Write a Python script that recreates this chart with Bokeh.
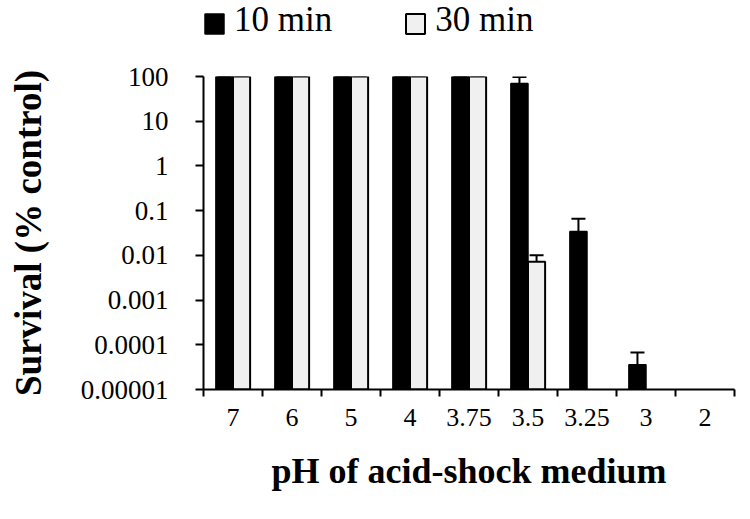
from bokeh.plotting import figure
from bokeh.layouts import column
from bokeh.models import (ColumnDataSource, FixedTicker, Whisker, TeeHead,
                          Legend, LegendItem, Range1d)
from bokeh.embed import file_html
from bokeh.resources import INLINE

# ---- data ----
categories = ["7", "6", "5", "4", "3.75", "3.5", "3.25", "3", "2"]
survival_10min = [100, 100, 100, 100, 100, 70, 0.034, 0.000036, None]
survival_30min = [100, 100, 100, 100, 100, 0.0072, None, None, None]
error_10min = [None, None, None, None, None, 27, 0.032, 0.000031, None]
error_30min = [None, None, None, None, None, 0.0028, None, None, None]
series_names = ["10 min", "30 min"]
ytick_values = [0.00001, 0.0001, 0.001, 0.01, 0.1, 1, 10, 100]
ytick_labels = ["0.00001", "0.0001", "0.001", "0.01", "0.1", "1", "10", "100"]
y_floor = 0.00001
y_ceil = 100

# ---- layout / style constants ----
BAR_W = 0.29
OFF = 0.145
FONT = "Liberation Serif"
LEG_FONT = "Times New Roman"
COL_10 = "black"
COL_30 = "#f0f0f0"
LW_10 = 1.5
LW_30 = 2
FRAME_L = 203
FRAME_W = 531
FRAME_H = 313
MAIN_TOP = 16
LEG_H = 60
TOTAL_W = FRAME_L + FRAME_W + 10
# legend geometry (pixels)
LEG_X = 1
SW_W = 20
SW_H = 21
LABEL_GAP = 10
ITEM_SPACING = 73
LABEL_W = 98          # rendered width of a "NN min" label at 35px
SW_CY = LEG_H - 23.5  # swatch centre, measured from the strip bottom


def series_source(vals, errs, offset):
    xs, tops, lows, ups = [], [], [], []
    for i, (v, e) in enumerate(zip(vals, errs)):
        if v is None:
            continue
        xs.append(i + 0.5 + offset)
        tops.append(v)
        lows.append(v)
        ups.append(v + e if e is not None else v)
    return ColumnDataSource(dict(x=xs, top=tops, lower=lows, upper=ups,
                                 bottom=[y_floor] * len(xs)))


src10 = series_source(survival_10min, error_10min, -OFF)
src30 = series_source(survival_30min, error_30min, +OFF)

p = figure(frame_width=FRAME_W, frame_height=FRAME_H, y_axis_type="log",
           x_range=Range1d(0, len(categories)), y_range=Range1d(y_floor, y_ceil),
           output_backend="svg", toolbar_location=None,
           min_border_left=FRAME_L, min_border_top=MAIN_TOP,
           min_border_right=TOTAL_W - FRAME_L - FRAME_W, min_border_bottom=10)
p.title.visible = False
p.outline_line_color = None
p.xgrid.visible = False
p.ygrid.visible = False

p.vbar(x="x", top="top", bottom="bottom", width=BAR_W, source=src10,
       fill_color=COL_10, line_color="black", line_width=LW_10)
p.vbar(x="x", top="top", bottom="bottom", width=BAR_W, source=src30,
       fill_color=COL_30, line_color="black", line_width=LW_30)

for src in (src10, src30):
    w = Whisker(base="x", lower="lower", upper="upper", source=src,
                dimension="height", line_color="black", line_width=2,
                upper_head=TeeHead(size=14, line_color="black", line_width=2),
                lower_head=None)
    p.add_layout(w)

# x axis: labels at category centres, ticks at category boundaries
xa = p.xaxis[0]
centres = [i + 0.5 for i in range(len(categories))]
xa.ticker = FixedTicker(ticks=centres,
                        minor_ticks=list(range(len(categories) + 1)))
xa.major_label_overrides = {c: lab for c, lab in zip(centres, categories)}
xa.major_tick_out = 0
xa.major_tick_in = 0
xa.minor_tick_out = 7
xa.minor_tick_in = 0
xa.minor_tick_line_width = 2
xa.minor_tick_line_color = "black"
xa.axis_line_width = 2
xa.axis_line_color = "black"
xa.major_label_text_font = FONT
xa.major_label_text_font_size = "26px"
xa.major_label_text_color = "black"
xa.major_label_standoff = 12
xa.axis_label = "pH of acid-shock medium"
xa.axis_label_text_font = FONT
xa.axis_label_text_font_style = "bold"
xa.axis_label_text_font_size = "36px"
xa.axis_label_text_color = "black"
xa.axis_label_standoff = 22

ya = p.yaxis[0]
ya.ticker = FixedTicker(ticks=ytick_values, minor_ticks=[])
ya.major_label_overrides = {v: lab for v, lab in zip(ytick_values, ytick_labels)}
ya.major_tick_out = 8
ya.major_tick_in = 0
ya.major_tick_line_width = 2
ya.major_tick_line_color = "black"
ya.minor_tick_out = 0
ya.minor_tick_in = 0
ya.axis_line_width = 2
ya.axis_line_color = "black"
ya.major_label_text_font = FONT
ya.major_label_text_font_size = "27px"
ya.major_label_text_color = "black"
ya.major_label_standoff = 27
ya.axis_label = "Survival (% control)"
ya.axis_label_text_font = FONT
ya.axis_label_text_font_style = "bold"
ya.axis_label_text_font_size = "37px"
ya.axis_label_text_color = "black"
ya.axis_label_standoff = 29

# ---- legend strip above the chart (its frame aligns with the chart's) ----
lf = figure(width=TOTAL_W, height=LEG_H, x_range=Range1d(0, FRAME_W),
            y_range=Range1d(0, LEG_H), output_backend="svg",
            toolbar_location=None, x_axis_location=None,
            y_axis_location=None, min_border=0)
lf.title.visible = False
lf.outline_line_color = None
lf.xgrid.visible = False
lf.ygrid.visible = False

# legend labels (renderers without rows: the legend draws only the labels)
k10 = lf.vbar(x="x", top="top", width=1, source=ColumnDataSource(dict(x=[], top=[])))
k30 = lf.vbar(x="x", top="top", width=1, source=ColumnDataSource(dict(x=[], top=[])))
legend = Legend(items=[LegendItem(label=series_names[0], renderers=[k10]),
                       LegendItem(label=series_names[1], renderers=[k30])],
                orientation="horizontal", location=(LEG_X, LEG_H - 40),
                label_text_font=LEG_FONT, label_text_font_size="35px",
                label_text_color="black", glyph_width=SW_W, glyph_height=SW_H,
                label_standoff=LABEL_GAP, spacing=ITEM_SPACING, padding=0,
                margin=0, border_line_color=None, background_fill_alpha=0)
lf.add_layout(legend, "center")

# legend swatches, one per series, placed in front of each label
item_step = SW_W + LABEL_GAP + LABEL_W + ITEM_SPACING
sw_x = [LEG_X + SW_W / 2 + i * item_step for i in range(len(series_names))]
lf.rect(x=sw_x, y=[SW_CY] * len(sw_x), width=SW_W - 1, height=SW_H - 1,
        fill_color=[COL_10, COL_30], line_color="black",
        line_width=[LW_10, LW_30])

layout = column(lf, p, spacing=0)
open("out.html", "w").write(file_html(layout, INLINE))
